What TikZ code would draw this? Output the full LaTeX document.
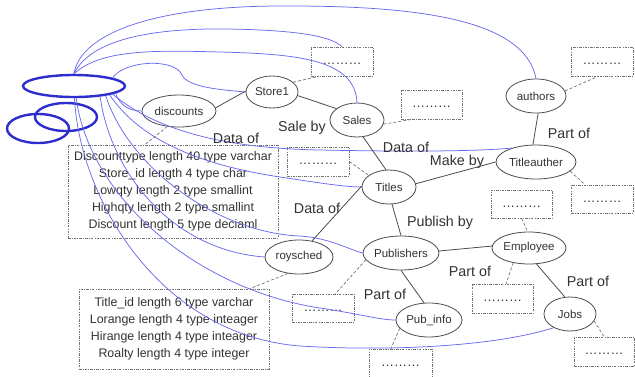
\documentclass[tikz,border=0pt]{standalone}
\usepackage{fontspec}
\setmainfont{Liberation Sans}
\usetikzlibrary{shapes.geometric}

\definecolor{hubblue}{RGB}{45,45,205}
\definecolor{linkblue}{RGB}{105,105,238}
\definecolor{inkgray}{RGB}{75,75,75}
\definecolor{boxgray}{RGB}{115,115,115}
\definecolor{txtgray}{RGB}{50,50,50}

\tikzset{
  entity/.style={ellipse, draw=inkgray, line width=0.8pt, inner sep=0pt,
    text=txtgray, font=\fontsize{11.5}{13}\selectfont},
  hubring/.style={ellipse, draw=hubblue, line width=2.4pt, inner sep=0pt},
  dotbox/.style={rectangle, draw=boxgray, line width=0.7pt,
    dash pattern=on 2.5pt off 1.2pt on 0.8pt off 1.2pt,
    minimum width=62pt, minimum height=29pt, inner sep=0pt,
    text=txtgray, font=\fontsize{13}{15}\selectfont},
  fieldbox/.style={dotbox, align=center, font=\fontsize{12.4}{17}\selectfont},
  rel/.style={draw=inkgray, line width=0.8pt},
  attach/.style={draw=boxgray, line width=0.7pt, dash pattern=on 3pt off 2pt},
  link/.style={draw=linkblue, line width=0.75pt},
  tag/.style={font=\fontsize{14.3}{16}\selectfont, text=txtgray, inner sep=0pt},
}

\begin{document}
\begin{tikzpicture}[x=1pt,y=-1pt]
\useasboundingbox (0,0) rectangle (635,376);

% the three blue rings on the left
\node[hubring, minimum width=102pt, minimum height=22pt] (hub) at (74,86) {};
\node[hubring, minimum width=62pt, minimum height=28pt] (ringB) at (66,117) {};
\node[hubring, minimum width=62pt, minimum height=29pt] (ringC) at (38,128.5) {};

% tables
\node[entity, minimum width=52pt, minimum height=32pt] (store) at (272,92) {Store1};
\node[entity, minimum width=74pt, minimum height=32pt] (disc) at (179,111) {discounts};
\node[entity, minimum width=54pt, minimum height=34pt] (sales) at (357,120) {Sales};
\node[entity, minimum width=60pt, minimum height=34pt] (authors) at (536,96) {authors};
\node[entity, minimum width=80pt, minimum height=34pt] (titleauther) at (536,162) {Titleauther};
\node[entity, minimum width=54pt, minimum height=34pt] (titles) at (389,187) {Titles};
\node[entity, minimum width=74pt, minimum height=34pt] (publishers) at (401,253) {Publishers};
\node[entity, minimum width=68pt, minimum height=34pt] (roysched) at (299,257) {roysched};
\node[entity, minimum width=74pt, minimum height=32pt] (employee) at (529,248) {Employee};
\node[entity, minimum width=66pt, minimum height=34pt] (pubinfo) at (429,320) {Pub\_info};
\node[entity, minimum width=52pt, minimum height=34pt] (jobs) at (570,314) {Jobs};

% placeholder boxes for column lists
\node[dotbox] (b1) at (342,61.5) {\strut………};
\node[dotbox, minimum width=61pt] (b2) at (431.5,104.5) {\strut………};
\node[dotbox] (b3) at (602,61.5) {\strut………};
\node[dotbox] (b4) at (318,161.5) {\strut………};
\node[dotbox, minimum height=28pt] (b5) at (602,199) {\strut………};
\node[dotbox, minimum width=61pt, minimum height=28pt] (b6) at (521.5,204) {\strut………};
\node[dotbox, minimum width=61pt] (b7) at (502.5,298.5) {\strut………};
\node[dotbox, minimum height=28pt] (b8) at (323,308) {\strut………};
\node[dotbox, minimum width=63pt] (b9) at (400.5,363.5) {\strut………};
\node[dotbox, minimum width=60pt] (b10) at (604,351.5) {\strut………};

% column lists
\node[fieldbox, minimum width=210pt, minimum height=93pt] (discbox) at (173,191.5)
  {Discounttype length 40 type varchar\\Store\_id length 4 type char\\Lowqty length 2 type smallint\\Highqty length 2 type smallint\\Discount length 5 type deciaml};
\node[fieldbox, minimum width=190pt, minimum height=80pt] (roybox) at (174,329)
  {Title\_id length 6 type varchar\\Lorange length 4 type inteager\\Hirange length 4 type inteager\\Roalty length 4 type integer};

% blue links from the top of the large ring
\draw[link] (hub.north) .. controls (80,35) and (150,5) .. (290,6)
  .. controls (420,6) and (525,20) .. (authors.north);
\draw[link] (hub.north) .. controls (90,40) and (150,28) .. (227,29)
  .. controls (290,30) and (330,35) .. (b1.north);
\draw[link] (hub.north) .. controls (100,50) and (150,50) .. (220,52)
  .. controls (300,54) and (355,60) .. (sales.north);
\draw[link] (hub.12) .. controls (125,60) and (175,58) .. (182,75)
  .. controls (188,88) and (225,90) .. (store.west);

% blue links fanning out from the lower right of the large ring
\draw[link] (hub.-10) .. controls (120,106) and (130,111) .. (disc.west);
\draw[link] (hub.-12) .. controls (150,125) and (210,148) .. (320,150)
  .. controls (420,152) and (480,151) .. (titleauther.150);
\draw[link] (hub.-14) .. controls (140,140) and (200,165) .. (280,177)
  .. controls (320,183) and (345,187) .. (titles.west);
\draw[link] (hub.-17) .. controls (130,170) and (220,233) .. (300,236)
  .. controls (330,238) and (350,250) .. (publishers.west);
\draw[link] (hub.-22) .. controls (110,170) and (170,250) .. (roysched.west);

% blue links dropping from the bottom of the large ring
\draw[link] (hub.-80) .. controls (90,200) and (200,290) .. (320,308)
  .. controls (360,314) and (380,320) .. (pubinfo.west);
\draw[link] (hub.-88) .. controls (80,200) and (160,335) .. (300,346)
  .. controls (400,352) and (500,345) .. (jobs.220);

% relationships
\draw[rel] (disc.5) -- (store.178);
\draw[rel] (store.-8) -- (sales.151);
\draw[rel] (sales.-70) -- (titles.100);
\draw[rel] (titles.7) -- (titleauther.180);
\draw[rel] (titleauther.100) -- (authors.-83);
\draw[rel] (roysched.51) -- (titles.178);
\draw[rel] (titles.-80) -- (publishers.90);
\draw[rel] (publishers.3) -- (employee.177);
\draw[rel] (publishers.-90) -- (pubinfo.106);
\draw[rel] (employee.-65) -- (jobs.107);

% tables to their column boxes
\draw[attach] (disc.233) -- (discbox.121);
\draw[attach] (store.25) -- (b1.213);
\draw[attach] (sales.351) -- (b2.217);
\draw[attach] (authors.10) -- (b3.255);
\draw[attach] (b4.east) -- (titles.150);
\draw[attach] (titleauther.-15) -- (b5.140);
\draw[attach] (b6.south) -- (employee.95);
\draw[attach] (employee.223) -- (b7.76);
\draw[attach] (publishers.191) -- (b8.49);
\draw[attach] (roysched.236) -- (roybox.28);
\draw[attach] (pubinfo.196) -- (b9.123);
\draw[attach] (jobs.344) -- (b10.north);

% relationship names
\node[tag] (tSaleBy) at (302,128) {Sale by};
\node[tag] (tDataA) at (236,138) {Data of};
\node[tag] (tDataB) at (406,147) {Data of};
\node[tag] (tMakeBy) at (457,162) {Make by};
\node[tag] (tPartA) at (569,133) {Part of};
\node[tag] (tDataC) at (317,208) {Data of};
\node[tag] (tPublish) at (440,223) {Publish by};
\node[tag] (tPartB) at (470,271) {Part of};
\node[tag] (tPartC) at (588,281) {Part of};
\node[tag] (tPartD) at (385,294) {Part of};
\end{tikzpicture}
\end{document}
